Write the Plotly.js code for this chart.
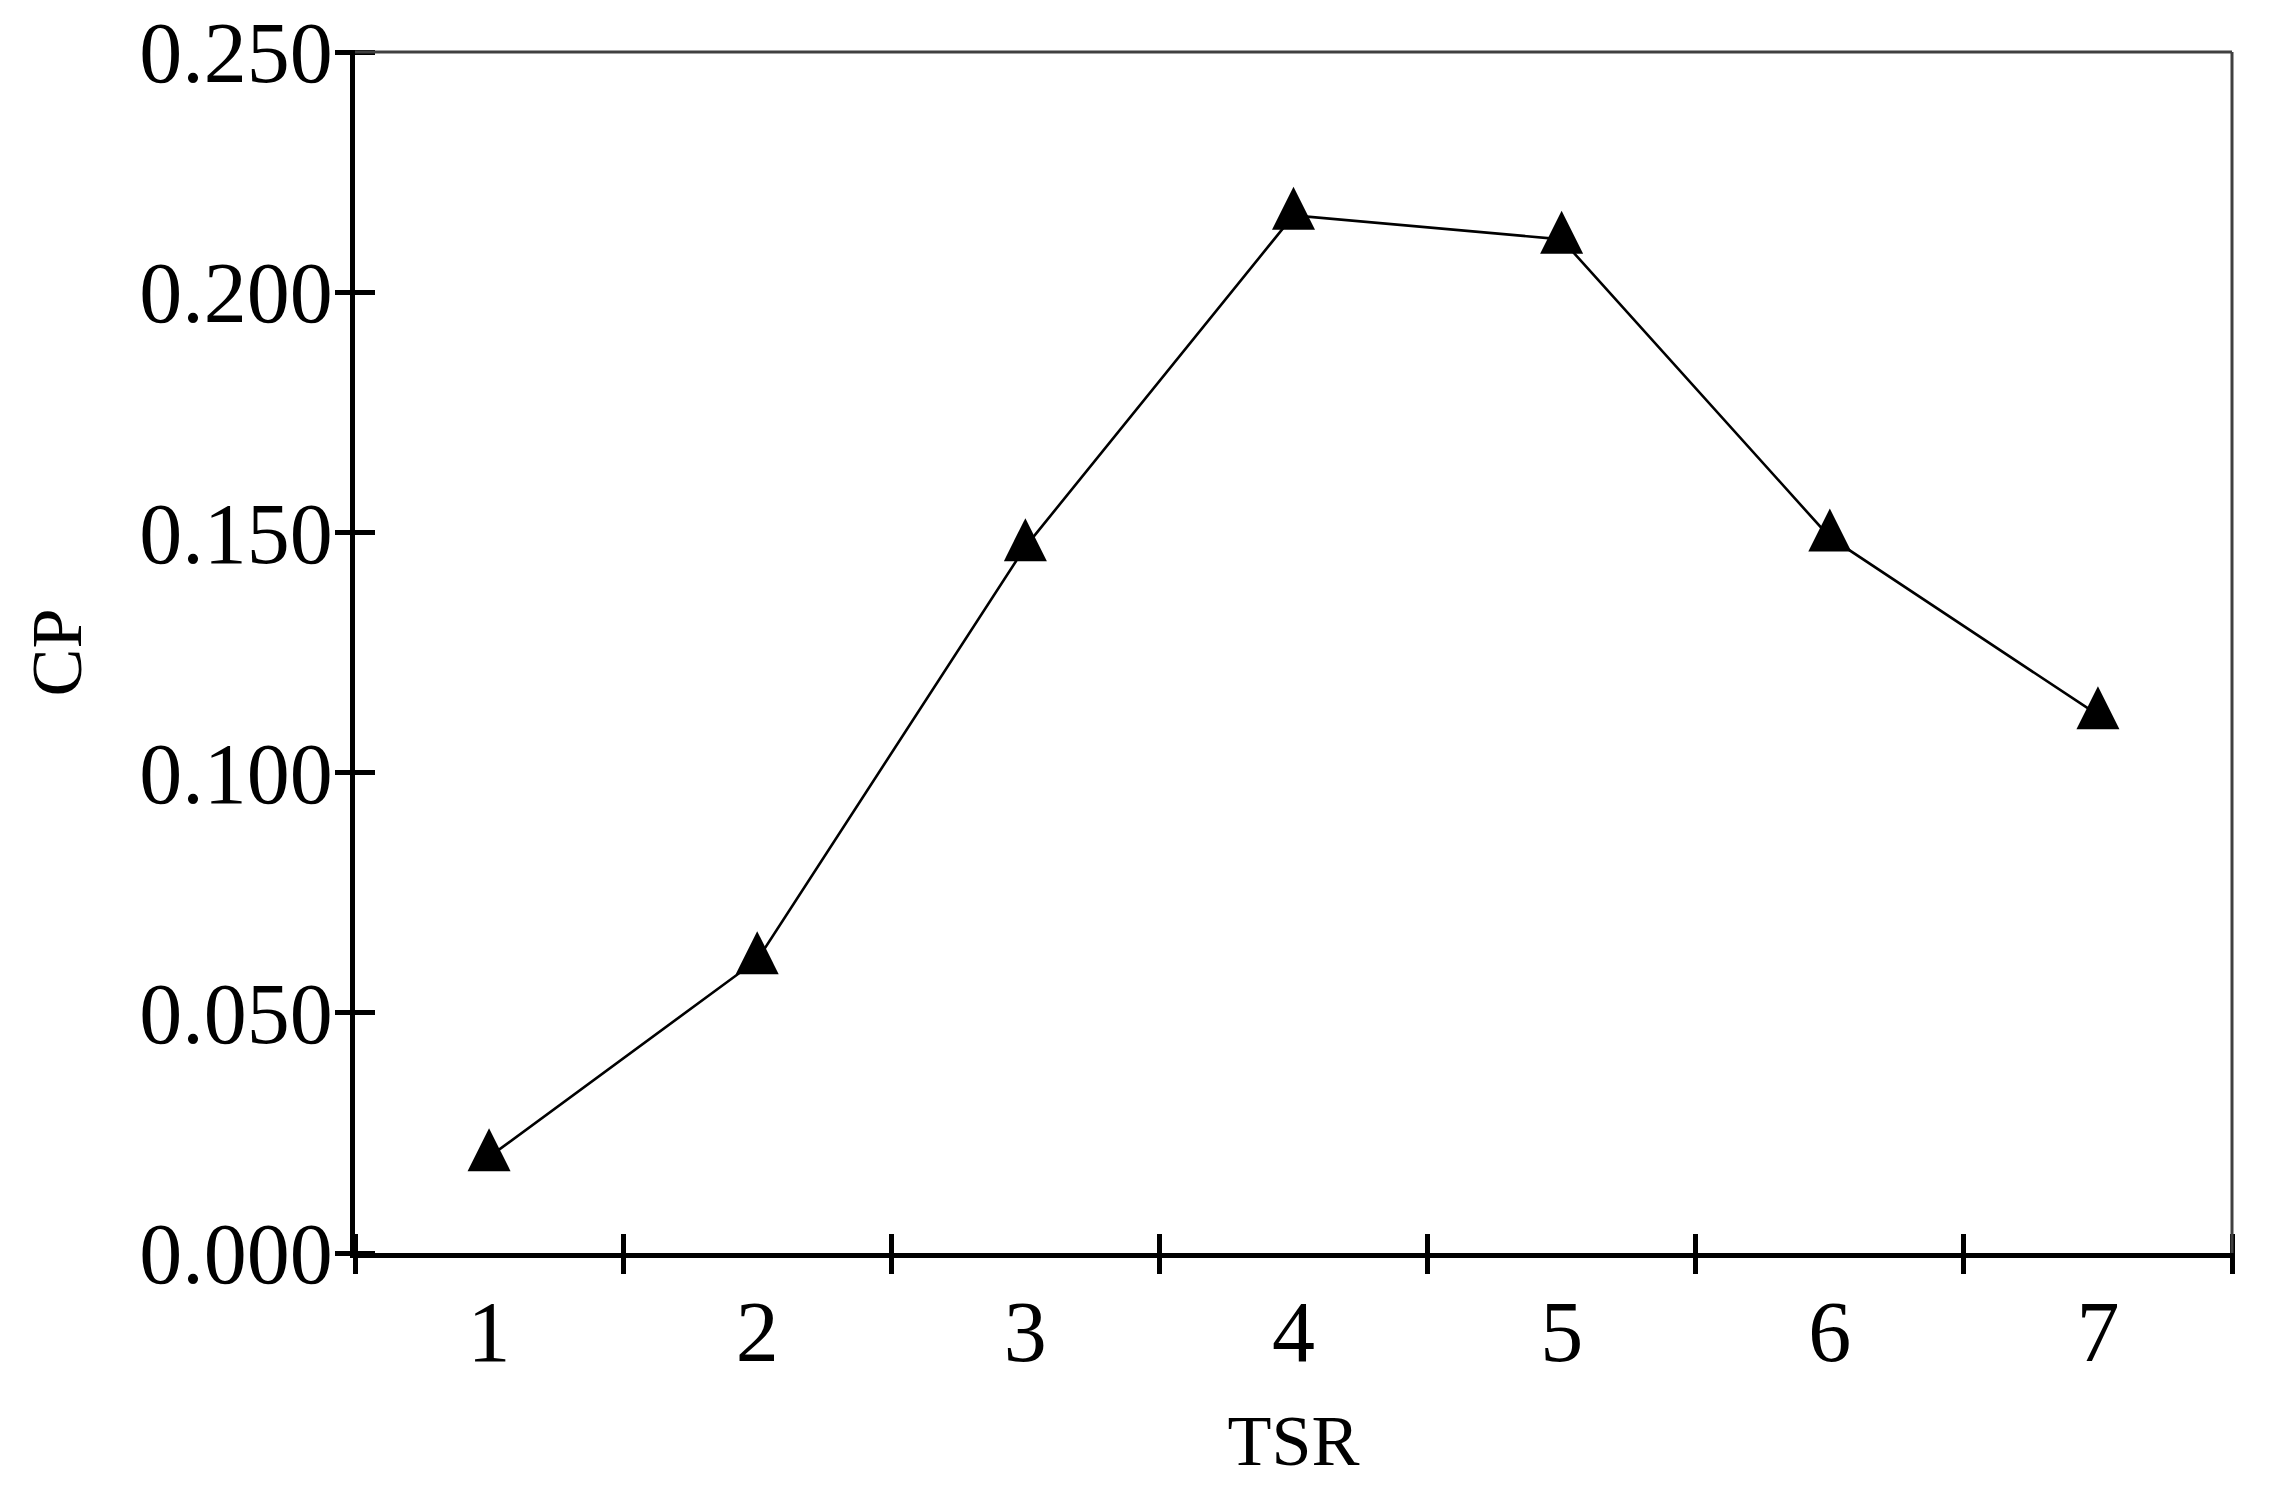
<!DOCTYPE html>
<html>
<head>
<meta charset="utf-8">
<script src="https://cdn.plot.ly/plotly-3.0.1.min.js"></script>
<style>html,body{margin:0;padding:0;background:#fff;}#chart{width:2269px;height:1492px;}</style>
</head>
<body>
<div id="chart"></div>
<script>
// Data
const tsr = [1, 2, 3, 4, 5, 6, 7];
const cp = [0.020, 0.061, 0.147, 0.216, 0.211, 0.149, 0.112];
const yTicks = [0, 0.05, 0.10, 0.15, 0.20, 0.25];
const xTitle = "TSR";
const yTitle = "CP";

const boundaries = tsr.map(v => v - 0.5).concat([tsr[tsr.length - 1] + 0.5]);
const xRange = [tsr[0] - 0.5, tsr[tsr.length - 1] + 0.5];
const yRange = [yTicks[0], yTicks[yTicks.length - 1]];
const font = "Liberation Serif, Times New Roman, serif";

const W = 2269, H = 1492;
const M = {l: 355, r: 37, t: 52, b: 239};
const plotW = W - M.l - M.r, plotH = H - M.t - M.b;
const half = 20;          // half length of the crossing tick marks (px)
const markerSize = 43;    // isosceles triangle, as wide as tall

// the arrow symbol has its tip on the point; shift its axis so the triangle's centroid sits on the point
const tipShift = markerSize * 2 / 3 / plotH * (yRange[1] - yRange[0]);
const markerRange = [yRange[0] - tipShift, yRange[1] - tipShift];

const lineTrace = {
  x: tsr, y: cp, type: "scatter", mode: "lines",
  line: {color: "#000", width: 2.6},
  cliponaxis: false, xaxis: "x", yaxis: "y", hoverinfo: "skip"
};
const markerTrace = {
  x: tsr, y: cp, type: "scatter", mode: "markers",
  marker: {symbol: "arrow-up", size: markerSize, color: "#000", line: {width: 0}},
  cliponaxis: false, xaxis: "x", yaxis: "y3", hoverinfo: "skip"
};
// invisible helper traces so the tick-only overlay axes are drawn
const helper = (xa, ya) => ({x: tsr, y: cp, type: "scatter", mode: "none", xaxis: xa, yaxis: ya, hoverinfo: "skip", showlegend: false});

const layout = {
  width: W, height: H,
  margin: M,
  paper_bgcolor: "#fff", plot_bgcolor: "#fff",
  showlegend: false,
  font: {family: font, size: 72, color: "#000"},
  xaxis: {
    range: xRange, tickvals: tsr, ticktext: tsr.map(String),
    ticks: "", showgrid: false, zeroline: false,
    showline: true, linecolor: "#000", linewidth: 5,
    tickfont: {family: font, size: 86, color: "#000"},
    ticklabelstandoff: 0,
    title: {text: xTitle, font: {family: font, size: 72, color: "#000"}, standoff: 37},
    automargin: false, fixedrange: true
  },
  // crossing tick marks on the category boundaries
  xaxis2: {
    overlaying: "x", anchor: "free", position: half / plotH, side: "bottom", range: xRange,
    tickvals: boundaries, ticks: "outside", ticklen: 2 * half, tickwidth: 5, tickcolor: "#000",
    showticklabels: false, showgrid: false, zeroline: false, showline: false, automargin: false, fixedrange: true
  },
  yaxis: {
    range: yRange, tickvals: yTicks, tickformat: ".3f",
    ticks: "", showgrid: false, zeroline: false,
    showline: true, linecolor: "#000", linewidth: 5,
    tickfont: {family: font, size: 86, color: "#000"},
    ticklabelstandoff: 0,
    title: {text: yTitle, font: {family: font, size: 72, color: "#000"}, standoff: 36},
    automargin: false, fixedrange: true
  },
  yaxis2: {
    overlaying: "y", anchor: "free", position: half / plotW, side: "left", range: yRange,
    tickvals: yTicks, ticks: "outside", ticklen: 2 * half, tickwidth: 5, tickcolor: "#000",
    showticklabels: false, showgrid: false, zeroline: false, showline: false, automargin: false, fixedrange: true
  },
  yaxis3: {
    overlaying: "y", anchor: "x", side: "left", range: markerRange, visible: false, fixedrange: true
  },
  shapes: [
    {type: "line", xref: "paper", yref: "paper", x0: 0, x1: 1, y0: 1, y1: 1, line: {color: "#404040", width: 3}},
    {type: "line", xref: "paper", yref: "paper", x0: 1, x1: 1, y0: 0, y1: 1, line: {color: "#404040", width: 3}}
  ]
};

Plotly.newPlot("chart", [helper("x2", "y"), helper("x", "y2"), lineTrace, markerTrace], layout, {displayModeBar: false, staticPlot: true});
</script>
</body>
</html>
